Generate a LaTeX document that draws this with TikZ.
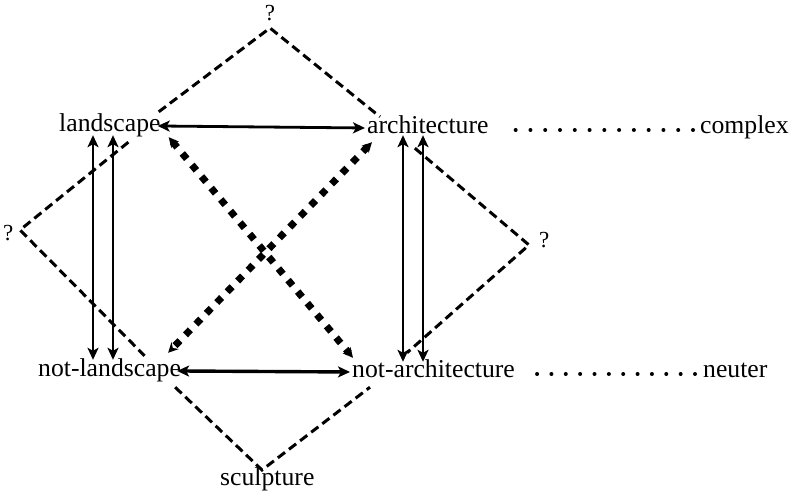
\documentclass[tikz,border=0pt]{standalone}
\usepackage{fontspec}
\setmainfont{Liberation Serif}
\usetikzlibrary{arrows.meta,calc}
\begin{document}
\begin{tikzpicture}[x=1pt,y=-1pt,
  lbl/.style={inner sep=0pt, font=\fontsize{25.7pt}{30pt}\selectfont, text height=18pt, text depth=6pt},
  qm/.style={inner sep=0pt, font=\fontsize{23pt}{26pt}\selectfont},
  dbl/.style={line width=2.8pt, {Stealth[length=12pt,width=11pt,inset=3pt]}-{Stealth[length=12pt,width=11pt,inset=3pt]}},
  dsh/.style={line width=3pt, dash pattern=on 9pt off 5pt},
  sqdot/.style={line width=7pt, dash pattern=on 7pt off 8pt, {Stealth[length=10pt,width=10pt]}-{Stealth[length=10pt,width=10pt]}},
  leaderdot/.style={fill=black}
]
\useasboundingbox (0,0) rectangle (793,494);

% labels
\node[lbl,anchor=base west] (landscape) at (59,132) {landscape};
\node[lbl,anchor=base west] (architecture) at (367,134) {architecture};
\node[lbl,anchor=base west] (complex) at (700,134) {complex};
\node[lbl,anchor=base west] (notland) at (38,377) {not-landscape};
\node[lbl,anchor=base west] (notarch) at (352,378) {not-architecture};
\node[lbl,anchor=base west] (neuter) at (703,378) {neuter};
\node[lbl,anchor=base west] (sculpture) at (220,485) {sculpture};
\node[qm,anchor=base] (qtop) at (270,21) {?};
\node[qm,anchor=base west] (qleft) at (3,241) {?};
\node[qm,anchor=base west] (qright) at (539,248) {?};

% apex points of the dashed diamonds
\coordinate (apexT) at ($(qtop.base)+(0,7)$);
\coordinate (apexL) at ($(qleft.base west)+(17,-11)$);
\coordinate (apexR) at ($(qright.base west)+(-10,-3)$);
\coordinate (apexB) at ($(sculpture.base west)+(42,-15)$);

% dashed diamonds
\draw[dsh] ($(landscape.north east)+(-2,-2)$) -- (apexT) -- ($(architecture.north west)+(13,1)$);
\draw[dsh] ($(landscape.south)+(18.5,4)$) -- (apexL) -- ($(notland.north)+(35,-3)$);
\draw[dsh] ($(notland.south east)+(-6,4)$) -- (apexB) -- ($(notarch.south west)+(18,3)$);
\draw[dsh] ($(architecture.south)+(-13,8)$) -- (apexR) -- ($(notarch.north west)+(55,-7)$);

% horizontal arrows
\draw[dbl, shorten <=-3pt, shorten >=2pt] (landscape.east) -- (architecture.west);
\draw[dbl, line width=3.4pt, shorten <=-4pt, shorten >=2pt] (notland.east) -- (notarch.west);

% vertical arrows
\draw[dbl] ($(landscape.south west)+(34,-3)$) -- ($(landscape.south west |- notland.north)+(34,1)$);
\draw[dbl] ($(landscape.south west)+(54,-3)$) -- ($(landscape.south west |- notland.north)+(54,1)$);
\draw[dbl] ($(architecture.south west)+(36,-5)$) -- ($(architecture.south west |- notarch.north)+(36,2)$);
\draw[dbl] ($(architecture.south west)+(56,-5)$) -- ($(architecture.south west |- notarch.north)+(56,2)$);

% heavy dotted diagonals
\draw[sqdot] ($(landscape.south east)+(8,-1)$) -- ($(notarch.north west)+(1,-2)$);
\draw[sqdot] ($(architecture.south west)+(5,2)$) -- ($(notland.north east)+(-13,-6)$);

% dotted leaders
\path ($(architecture.base east)+(27,-4)$) coordinate (c1) ($(complex.base west)+(-7,-4)$) coordinate (c2);
\foreach \i in {0,...,12} \fill[leaderdot] ($(c1)!\i/12!(c2)$) circle (2);
\path ($(notarch.base east)+(22,-4)$) coordinate (n1) ($(neuter.base west)+(-8,-4)$) coordinate (n2);
\foreach \i in {0,...,11} \fill[leaderdot] ($(n1)!\i/11!(n2)$) circle (2);
\end{tikzpicture}
\end{document}
